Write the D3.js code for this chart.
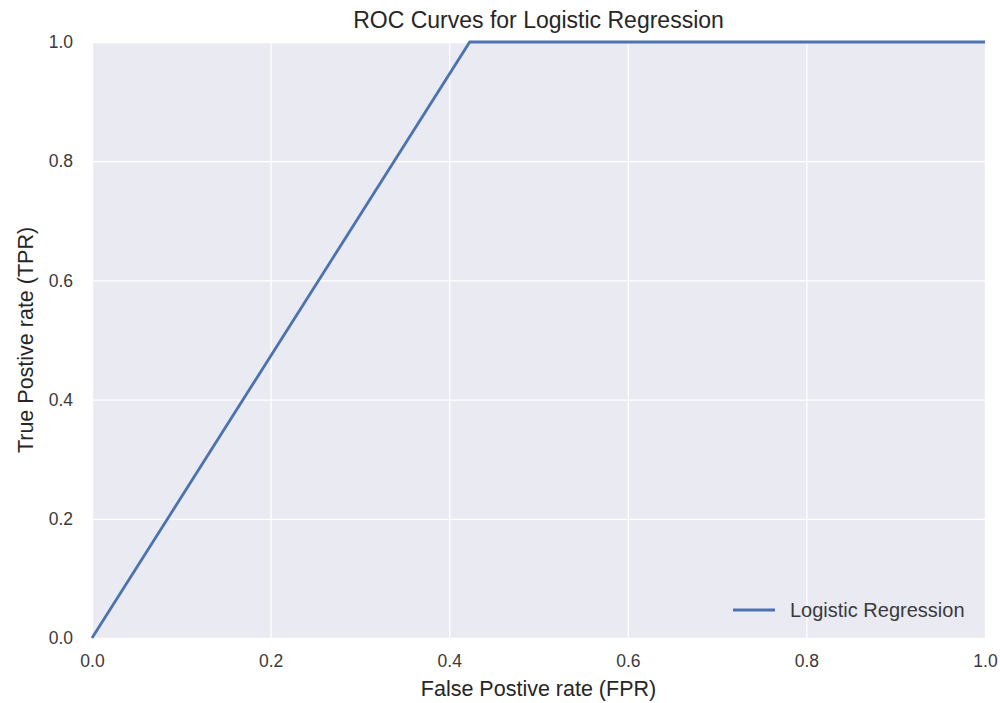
<!DOCTYPE html>
<html lang="en">
<head>
<meta charset="UTF-8">
<title>ROC Curves for Logistic Regression</title>
<style>
    body { margin: 0; background: #fff; }
    text { font-family: "Liberation Sans", Arial, sans-serif; }
    .tick text { font-size: 17.5px; fill: #3a3a3a; }
    .tick line { stroke: #fff; stroke-width: 1.3; }
    .domain { display: none; }
    .axis-label { font-size: 21.5px; fill: #262626; }
    .title { font-size: 23px; fill: #262626; }
</style>
</head>
<body>
<svg width="1000" height="703"></svg>
<script src="https://d3js.org/d3.v7.min.js"></script>
<script>
    // ROC curve points
    const fpr = [0.0, 0.423, 1.0];
    const tpr = [0.0, 1.0, 1.0];
    const ticks = [0, 0.2, 0.4, 0.6, 0.8, 1.0];
    const seriesName = 'Logistic Regression';

    const margin = { left: 92, right: 15, top: 42, bottom: 65 };

    const svg = d3.select('svg');
    const width = +svg.attr('width');
    const height = +svg.attr('height');
    const innerWidth = width - margin.left - margin.right;
    const innerHeight = height - margin.top - margin.bottom;

    const xScale = d3.scaleLinear().domain([0, 1]).range([0, innerWidth]);
    const yScale = d3.scaleLinear().domain([0, 1]).range([innerHeight, 0]);

    const g = svg.append('g')
        .attr('transform', 'translate(' + margin.left + ' ' + margin.top + ')');

    g.append('rect')
        .attr('width', innerWidth)
        .attr('height', innerHeight)
        .attr('fill', '#eaeaf2');

    const xAxisG = g.append('g')
        .attr('transform', 'translate(0 ' + innerHeight + ')')
        .call(d3.axisBottom(xScale)
            .tickValues(ticks)
            .tickFormat(d3.format('.1f'))
            .tickSize(-innerHeight));

    const yAxisG = g.append('g')
        .call(d3.axisLeft(yScale)
            .tickValues(ticks)
            .tickFormat(d3.format('.1f'))
            .tickSize(-innerWidth)
            .tickPadding(19));

    // baseline of the x tick labels sits about 29px under the plot
    xAxisG.selectAll('.tick text').attr('y', 29).attr('dy', 0);

    const line = d3.line()
        .x(function (d, i) { return xScale(fpr[i]); })
        .y(function (d, i) { return yScale(tpr[i]); });

    g.append('path')
        .datum(fpr)
        .attr('d', line)
        .attr('fill', 'none')
        .attr('stroke', '#4c72b0')
        .attr('stroke-width', 2.8);

    // legend, lower right
    const legend = g.append('g')
        .attr('transform', 'translate(' + (innerWidth - 252) + ' ' + (innerHeight - 28) + ')');
    legend.append('line')
        .attr('x1', 0).attr('x2', 42)
        .attr('stroke', '#4c72b0')
        .attr('stroke-width', 2.8);
    legend.append('text')
        .attr('x', 57)
        .attr('dy', '0.35em')
        .style('font-size', '20px')
        .attr('fill', '#3a3a3a')
        .text(seriesName);

    svg.append('text')
        .attr('class', 'title')
        .attr('x', margin.left + innerWidth / 2)
        .attr('y', 28)
        .attr('text-anchor', 'middle')
        .text('ROC Curves for Logistic Regression');

    svg.append('text')
        .attr('class', 'axis-label')
        .attr('x', margin.left + innerWidth / 2)
        .attr('y', 696)
        .attr('text-anchor', 'middle')
        .text('False Postive rate (FPR)');

    svg.append('text')
        .attr('class', 'axis-label')
        .attr('transform', 'translate(33 ' + (margin.top + innerHeight / 2) + ') rotate(-90)')
        .attr('text-anchor', 'middle')
        .text('True Postive rate (TPR)');
</script>
</body>
</html>
